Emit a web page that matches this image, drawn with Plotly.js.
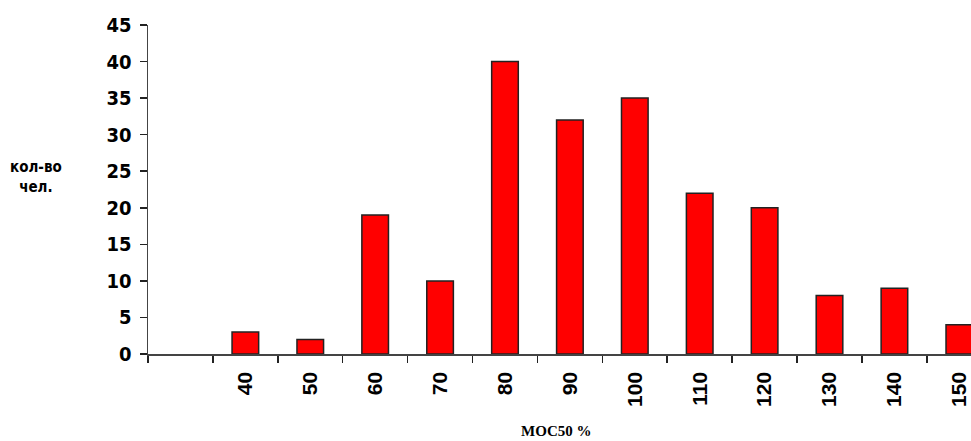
<!DOCTYPE html>
<html>
<head>
<meta charset="utf-8">
<script src="https://cdn.plot.ly/plotly-3.0.1.min.js"></script>
<style>html,body{margin:0;padding:0;background:#fff;}#chart{width:971px;height:441px;}</style>
</head>
<body>
<div id="chart"></div>
<script>
// Data
const categories = [' ', '40', '50', '60', '70', '80', '90', '100', '110', '120', '130', '140', '150'];
const counts = [null, 3, 2, 19, 10, 40, 32, 35, 22, 20, 8, 9, 4];
const yTicks = [0, 5, 10, 15, 20, 25, 30, 35, 40, 45];
const yTitleText = 'кол-во<br>чел.';
const xTitleText = 'МОС50 %';

const narrow = "'Liberation Sans Narrow', 'DejaVu Sans Condensed', 'Arial Narrow', Arial, sans-serif";

const trace = {
  type: 'bar',
  x: categories,
  y: counts,
  marker: {color: '#ff0000', line: {color: '#222222', width: 1.5}},
  hoverinfo: 'skip'
};

const layout = {
  width: 971,
  height: 441,
  margin: {l: 148, r: 0, t: 25, b: 87},
  paper_bgcolor: '#ffffff',
  plot_bgcolor: '#ffffff',
  showlegend: false,
  bargap: 0.59,
  xaxis: {
    type: 'category',
    categoryorder: 'array',
    categoryarray: categories,
    range: [-0.5, 12.18],
    tickson: 'boundaries',
    ticks: 'outside',
    ticklen: 7,
    tickwidth: 1.5,
    tickcolor: '#222222',
    showline: true,
    linecolor: '#444444',
    linewidth: 1.5,
    showgrid: false,
    zeroline: false,
    tickangle: -90,
    ticklabelstandoff: 8,
    tickfont: {family: "'Liberation Sans', Arial, sans-serif", size: 21, color: '#000', weight: 'bold'},
    fixedrange: true
  },
  yaxis: {
    range: [0, 45],
    tickmode: 'array',
    tickvals: yTicks,
    ticktext: yTicks.map(String),
    ticks: 'outside',
    ticklen: 7,
    tickwidth: 1.5,
    tickcolor: '#222222',
    showline: true,
    linecolor: '#444444',
    linewidth: 1.5,
    showgrid: false,
    zeroline: false,
    ticklabelstandoff: 4,
    tickfont: {family: narrow, size: 20, color: '#000', weight: 'bold'},
    fixedrange: true
  },
  annotations: [
    {
      text: yTitleText,
      xref: 'paper', yref: 'paper',
      x: (36 - 148) / 823, y: (354 - 177) / 329,
      xanchor: 'center', yanchor: 'middle',
      showarrow: false,
      align: 'center',
      font: {family: narrow, size: 15, color: '#000', weight: 'bold'}
    },
    {
      text: xTitleText,
      xref: 'paper', yref: 'paper',
      x: (556 - 148) / 823, y: -(431 - 354) / 329,
      xanchor: 'center', yanchor: 'middle',
      showarrow: false,
      font: {family: "'Liberation Serif', 'Times New Roman', serif", size: 15, color: '#000', weight: 'bold'}
    }
  ]
};

Plotly.newPlot('chart', [trace], layout, {displayModeBar: false, staticPlot: true});
</script>
</body>
</html>
